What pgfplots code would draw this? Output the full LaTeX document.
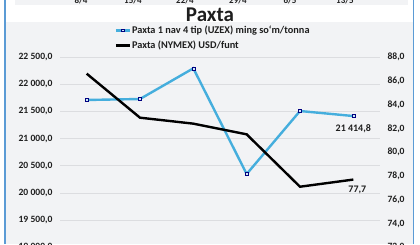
\documentclass[border=0pt]{standalone}
\usepackage{fontspec}
\setmainfont{Carlito}
\usepackage{pgfplots}
\pgfplotsset{compat=1.18}
\definecolor{paxblue}{HTML}{45AEDD}
\definecolor{panel}{HTML}{F2F3F5}
\definecolor{frame}{HTML}{5B9BD5}
\definecolor{gridc}{HTML}{DCDDE0}
\definecolor{txt}{HTML}{1E1E1E}
\pgfplotstableread{
x uzex
0 21710
1 21728
2 22292
3 20349
4 21507
5 21414.8
}\uzex
\pgfplotstableread{
x nymex
0 86.6
1 82.9
2 82.4
3 81.5
4 77.1
5 77.7
}\nymex
\begin{document}
\begin{tikzpicture}[x=1pt,y=1pt]
\useasboundingbox (0,0) rectangle (420,244);
\clip (0,0) rectangle (420,244);
\fill[white] (0,0) rectangle (420,244);
\fill[panel] (15,239) rectangle (408,244);
\fill[panel] (6,0) rectangle (413,221.5);
\draw[frame, line width=1.3] (5,0) -- (5,244);
\draw[frame, line width=1.3] (413.5,0) -- (413.5,244);
\begin{scope}[font=\bfseries\fontsize{9}{10}\selectfont, text=txt]
\node[anchor=base] at (81,240.5) {8/4};
\node[anchor=base] at (133,240.5) {15/4};
\node[anchor=base] at (185,240.5) {22/4};
\node[anchor=base] at (238,240.5) {29/4};
\node[anchor=base] at (290,240.5) {6/5};
\node[anchor=base] at (345,240.5) {13/5};
\end{scope}
\node[font=\bfseries\fontsize{21}{24}\selectfont, text=txt] at (210,229.5) {Paxta};
\begin{axis}[
  at={(60pt,-3.4pt)}, anchor=south west, scale only axis,
  width=320pt, height=190.4pt,
  xmin=-0.5, xmax=5.5, ymin=19000, ymax=22500,
  ytick={19000,19500,...,22500}, scaled y ticks=false,
  xtick={0,...,5}, xticklabels={8/4,15/4,22/4,29/4,6/5,13/5},
  axis line style={draw=none}, major tick style={draw=none},
  ymajorgrids, grid style={color=gridc, line width=0.7pt},
  tick label style={font=\bfseries\fontsize{9.6}{10}\selectfont, text=txt},
  yticklabel style={xshift=-4pt},
  /pgf/number format/.cd, assume math mode=true, fixed, fixed zerofill, precision=1, use comma, 1000 sep={\ },
]
\addplot[paxblue, line width=2.4pt, mark=square*, mark size=1.5pt,
  mark options={fill=paxblue!25, draw=blue!50!black, line width=0.5pt}]
  table[x=x, y=uzex] {\uzex}
  node[pos=1, anchor=north, yshift=-4pt, font=\bfseries\fontsize{10}{10}\selectfont, text=txt] {21\ 414,8};
\end{axis}
\begin{axis}[
  at={(60pt,-3.4pt)}, anchor=south west, scale only axis,
  width=320pt, height=190.4pt,
  xmin=-0.5, xmax=5.5, ymin=72, ymax=88,
  ytick={72,74,...,88}, xtick=\empty,
  axis y line*=right, axis x line=none,
  axis line style={draw=none}, major tick style={draw=none},
  tick label style={font=\bfseries\fontsize{9.6}{10}\selectfont, text=txt},
  yticklabel style={xshift=4pt},
  /pgf/number format/.cd, assume math mode=true, fixed, fixed zerofill, precision=1, use comma,
  /pgfplots/.cd,
  legend style={at={(rel axis cs:0.17,1.17)}, anchor=north west, draw=none, fill=none,
    font=\bfseries\fontsize{10.3}{11}\selectfont, text=txt, row sep=4pt, inner sep=0pt,
    nodes={inner sep=1pt}},
  legend cell align=left,
  legend image code/.code={\draw[#1, mark repeat=2, mark phase=2] plot coordinates {(0pt,0pt) (7pt,0pt) (14pt,0pt)};},
]
\addlegendimage{paxblue, line width=2.4pt, mark=square*, mark size=1.2pt,
  mark options={fill=paxblue!25, draw=blue!50!black, line width=0.5pt}}
\addlegendentry{Paxta 1 nav 4 tip (UZEX) ming so‘m/tonna}
\addplot[black, line width=2.4pt, mark=none]
  table[x=x, y=nymex] {\nymex}
  node[pos=1, anchor=north, xshift=4pt, yshift=-2pt, font=\bfseries\fontsize{10}{10}\selectfont, text=txt] {77,7};
\addlegendentry{Paxta (NYMEX) USD/funt}
\end{axis}
\end{tikzpicture}
\end{document}
